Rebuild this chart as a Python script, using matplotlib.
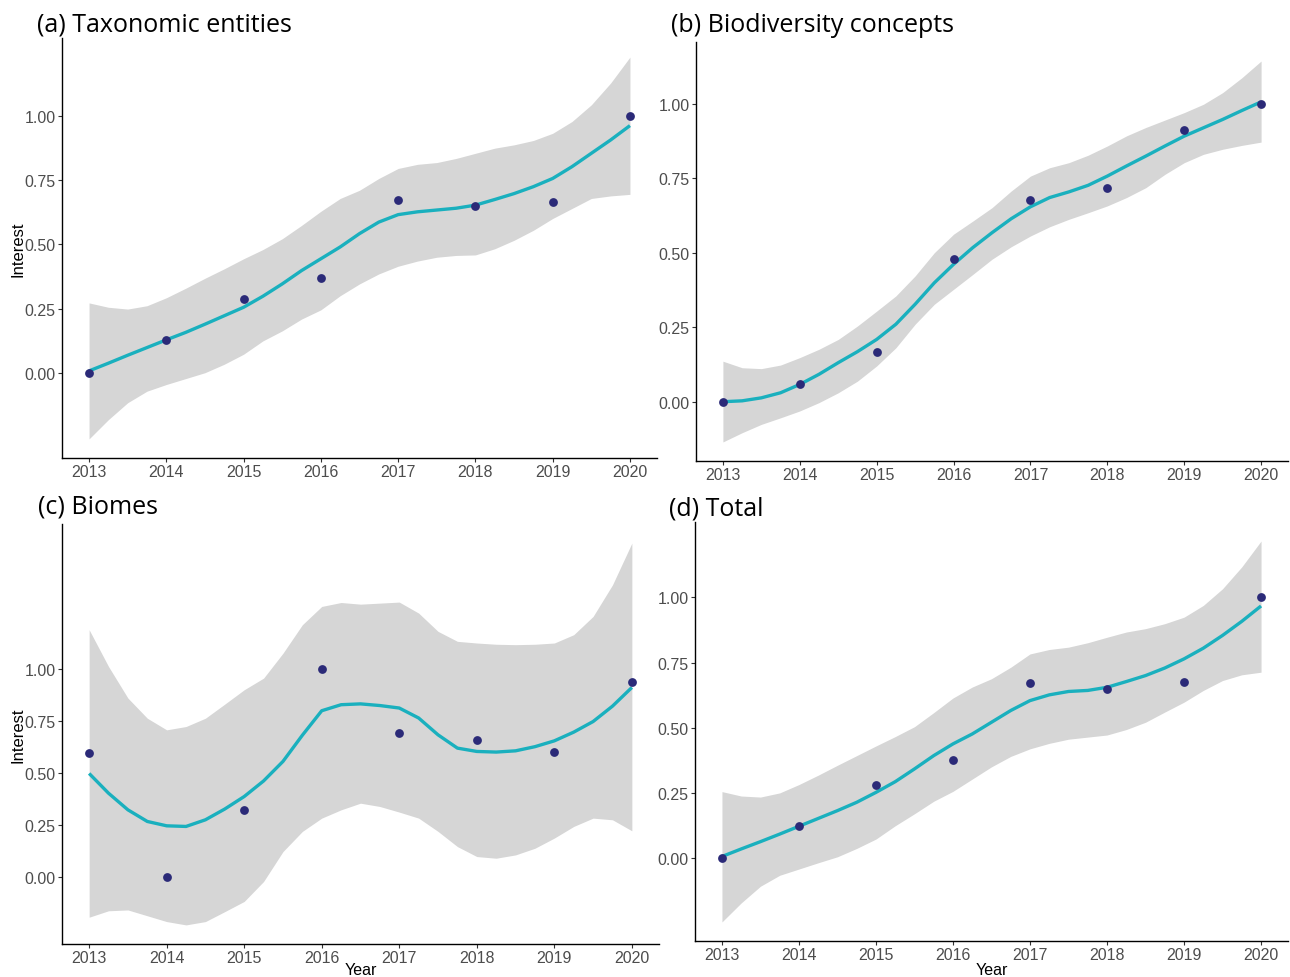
import matplotlib
matplotlib.use("Agg")
import matplotlib.pyplot as plt

# ---------------- data ----------------
years = [2013, 2014, 2015, 2016, 2017, 2018, 2019, 2020]
year_labels = ["2013", "2014", "2015", "2016", "2017", "2018", "2019", "2020"]
y_ticks = [0.0, 0.25, 0.5, 0.75, 1.0]
y_tick_labels = ["0.00", "0.25", "0.50", "0.75", "1.00"]

# observed points
tax_points = [0.00, 0.128, 0.289, 0.371, 0.672, 0.648, 0.666, 1.00]
bio_points = [0.00, 0.059, 0.167, 0.478, 0.678, 0.717, 0.912, 1.00]
biome_points = [0.596, 0.00, 0.319, 1.00, 0.692, 0.658, 0.597, 0.934]
total_points = [0.00, 0.122, 0.280, 0.376, 0.673, 0.650, 0.677, 1.00]

# smooth (loess) curves and confidence bands at quarter-year positions
quarter_years = [2013, 2013.25, 2013.5, 2013.75, 2014, 2014.25, 2014.5, 2014.75,
                 2015, 2015.25, 2015.5, 2015.75, 2016, 2016.25, 2016.5, 2016.75,
                 2017, 2017.25, 2017.5, 2017.75, 2018, 2018.25, 2018.5, 2018.75,
                 2019, 2019.25, 2019.5, 2019.75, 2020]

tax_fit = [0.007, 0.037, 0.068, 0.098, 0.128, 0.157, 0.189, 0.222,
           0.255, 0.298, 0.346, 0.398, 0.444, 0.490, 0.542, 0.587,
           0.616, 0.627, 0.634, 0.641, 0.653, 0.675, 0.698, 0.725,
           0.757, 0.803, 0.855, 0.907, 0.963]
tax_upper = [0.272, 0.255, 0.248, 0.261, 0.292, 0.329, 0.368, 0.405,
             0.444, 0.480, 0.522, 0.574, 0.629, 0.679, 0.711, 0.757,
             0.796, 0.812, 0.819, 0.835, 0.855, 0.875, 0.888, 0.905,
             0.933, 0.979, 1.044, 1.129, 1.230]
tax_lower = [-0.258, -0.183, -0.117, -0.072, -0.046, -0.023, 0.000, 0.033,
             0.072, 0.124, 0.163, 0.209, 0.245, 0.300, 0.346, 0.385,
             0.415, 0.435, 0.450, 0.457, 0.459, 0.483, 0.516, 0.555,
             0.601, 0.640, 0.679, 0.689, 0.695]

bio_fit = [0.000, 0.003, 0.013, 0.030, 0.058, 0.092, 0.131, 0.168,
           0.209, 0.260, 0.327, 0.399, 0.461, 0.517, 0.567, 0.614,
           0.654, 0.685, 0.704, 0.726, 0.757, 0.791, 0.824, 0.858,
           0.891, 0.919, 0.947, 0.977, 1.006]
bio_upper = [0.136, 0.114, 0.111, 0.123, 0.148, 0.176, 0.209, 0.254,
             0.304, 0.355, 0.422, 0.500, 0.562, 0.606, 0.651, 0.707,
             0.757, 0.785, 0.802, 0.827, 0.858, 0.892, 0.920, 0.945,
             0.970, 0.998, 1.037, 1.087, 1.143]
bio_lower = [-0.135, -0.104, -0.076, -0.054, -0.031, -0.003, 0.030, 0.069,
             0.120, 0.181, 0.260, 0.327, 0.377, 0.427, 0.478, 0.520,
             0.556, 0.587, 0.612, 0.634, 0.657, 0.685, 0.718, 0.763,
             0.802, 0.830, 0.847, 0.860, 0.871]

biome_fit = [0.496, 0.401, 0.321, 0.265, 0.244, 0.241, 0.273, 0.325,
             0.385, 0.460, 0.554, 0.680, 0.798, 0.827, 0.831, 0.823,
             0.811, 0.763, 0.682, 0.618, 0.602, 0.599, 0.605, 0.625,
             0.653, 0.695, 0.746, 0.820, 0.910]
biome_upper = [1.188, 1.011, 0.859, 0.762, 0.706, 0.722, 0.762, 0.830,
               0.899, 0.955, 1.075, 1.212, 1.300, 1.319, 1.311, 1.316,
               1.321, 1.268, 1.180, 1.132, 1.124, 1.118, 1.116, 1.118,
               1.124, 1.164, 1.252, 1.404, 1.605]
biome_lower = [-0.196, -0.165, -0.161, -0.189, -0.217, -0.233, -0.217, -0.169,
               -0.120, -0.024, 0.120, 0.217, 0.281, 0.321, 0.353, 0.337,
               0.310, 0.281, 0.217, 0.144, 0.096, 0.088, 0.104, 0.136,
               0.185, 0.241, 0.281, 0.273, 0.220]

total_fit = [0.006, 0.035, 0.063, 0.092, 0.122, 0.152, 0.182, 0.214,
             0.252, 0.293, 0.342, 0.393, 0.438, 0.476, 0.521, 0.566,
             0.604, 0.626, 0.639, 0.643, 0.655, 0.677, 0.700, 0.729,
             0.764, 0.805, 0.854, 0.908, 0.967]
total_upper = [0.255, 0.238, 0.234, 0.250, 0.282, 0.318, 0.356, 0.393,
               0.430, 0.466, 0.504, 0.558, 0.614, 0.656, 0.688, 0.732,
               0.783, 0.800, 0.809, 0.826, 0.847, 0.867, 0.880, 0.899,
               0.924, 0.969, 1.033, 1.117, 1.216]
total_lower = [-0.245, -0.172, -0.108, -0.066, -0.042, -0.018, 0.005, 0.037,
               0.073, 0.124, 0.170, 0.218, 0.256, 0.303, 0.350, 0.390,
               0.419, 0.440, 0.456, 0.464, 0.472, 0.493, 0.521, 0.560,
               0.598, 0.643, 0.681, 0.703, 0.713]

titles = ["(a) Taxonomic entities", "(b) Biodiversity concepts", "(c) Biomes", "(d) Total"]

panels = [
    dict(points=tax_points, fit=tax_fit, lo=tax_lower, hi=tax_upper),
    dict(points=bio_points, fit=bio_fit, lo=bio_lower, hi=bio_upper),
    dict(points=biome_points, fit=biome_fit, lo=biome_lower, hi=biome_upper),
    dict(points=total_points, fit=total_fit, lo=total_lower, hi=total_upper),
]

# ---------------- layout ----------------
W, H = 1290, 978
# (left, top, right, bottom) in pixels
boxes = [(62, 39, 657, 459), (696, 43, 1288, 462), (62, 525, 659, 945), (695, 523, 1288, 942)]
title_pos = [(37, 31), (671, 32), (38, 514), (669, 515)]
ylabel_on = [True, False, True, False]
xlabel_on = [False, False, True, True]

POINT = "#2B2A78"
LINE = "#1AB0BE"
BAND = "#D6D6D6"

fig = plt.figure(figsize=(W / 100, H / 100), dpi=100)
fig.patch.set_facecolor("white")

for i, p in enumerate(panels):
    l, t, r, b = boxes[i]
    ax = fig.add_axes([l / W, 1 - b / H, (r - l) / W, (b - t) / H])
    ax.fill_between(quarter_years, p["lo"], p["hi"], color=BAND, linewidth=0, zorder=1)
    ax.plot(quarter_years, p["fit"], color=LINE, linewidth=2.4, zorder=2,
            solid_capstyle="butt", solid_joinstyle="round")
    ax.scatter(years, p["points"], s=40, color=POINT, zorder=3, linewidths=0)
    ax.margins(x=0.05, y=0.05)
    ax.set_xticks(years)
    ax.set_xticklabels(year_labels)
    ax.set_yticks(y_ticks)
    ax.set_yticklabels(y_tick_labels)
    for side in ("top", "right"):
        ax.spines[side].set_visible(False)
    for side in ("left", "bottom"):
        ax.spines[side].set_linewidth(1.0)
        ax.spines[side].set_color("black")
    ax.tick_params(axis="both", length=3, width=0.8, color="#333333",
                   labelsize=11.5, labelcolor="#4D4D4D", pad=1.5)
    for lab in ax.get_xticklabels() + ax.get_yticklabels():
        lab.set_family("Liberation Sans")
    if ylabel_on[i]:
        fig.text(18 / W, 1 - ((t + b) / 2) / H, "Interest", rotation=90, fontsize=12,
                 family="Liberation Sans", color="black", ha="center", va="center")
    if xlabel_on[i]:
        fig.text(((l + r) / 2) / W, 1 - 971 / H, "Year", fontsize=11.5,
                 family="Liberation Sans", color="black", ha="center", va="center")
    tx, ty = title_pos[i]
    fig.text(tx / W, 1 - ty / H, titles[i], fontsize=18, family="Open Sans",
             ha="left", va="baseline", color="black")

fig.savefig("out.png", dpi=100, facecolor="white")
